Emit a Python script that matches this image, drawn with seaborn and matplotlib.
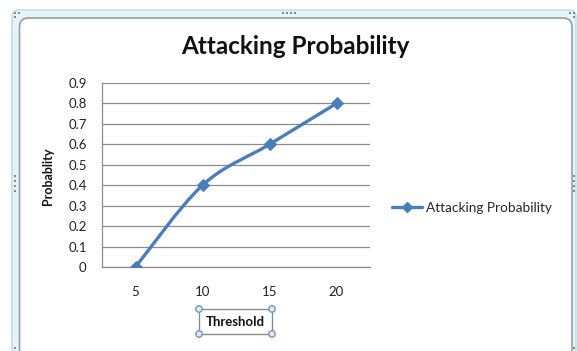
import numpy as np
import pandas as pd
import matplotlib
matplotlib.use("Agg")
import matplotlib.pyplot as plt
import seaborn as sns
from matplotlib.path import Path
from matplotlib.patches import PathPatch, FancyBboxPatch, Circle, Rectangle
from matplotlib.lines import Line2D

# Chart data
thresholds = ["5", "10", "15", "20"]
attacking_probability = [0.0, 0.4, 0.6, 0.8]
y_ticks = [0, 0.1, 0.2, 0.3, 0.4, 0.5, 0.6, 0.7, 0.8, 0.9]
y_tick_labels = ["0", "0.1", "0.2", "0.3", "0.4", "0.5", "0.6", "0.7", "0.8", "0.9"]
series_name = "Attacking Probability"
chart_title = "Attacking Probability"
x_title = "Threshold"
y_title = "Probablity"

LINE_BLUE = "#4a7ebb"
GRID_GRAY = "#8c8c8c"

sns.set_style("white")
plt.rcParams["font.family"] = ["Lato", "DejaVu Sans"]

W, H = 577, 351
fig = plt.figure(figsize=(W / 100, H / 100), dpi=100)
fig.patch.set_facecolor("white")

# Background layer in pixel coordinates for the chart frame
bg = fig.add_axes([0, 0, 1, 1], zorder=0)
bg.set_xlim(0, W)
bg.set_ylim(H, 0)
bg.axis("off")

bg.add_patch(FancyBboxPatch((12, 10), 564, 345, boxstyle="round,pad=0,rounding_size=7",
                            facecolor="#e4f5f8", edgecolor="#bcd9e0", lw=1))
bg.add_patch(FancyBboxPatch((19.5, 18), 552.5, 340, boxstyle="round,pad=0,rounding_size=9",
                            facecolor="white", edgecolor="#9c9c9c", lw=1.2))

# Resize handles on the frame
def dots(xs, ys):
    for x in xs:
        for y in ys:
            bg.add_patch(Rectangle((x - 1, y - 1), 2, 2, facecolor="#8a8a8a", edgecolor="none"))

dots([283, 287, 291, 295], [13])
dots([15], [176, 181, 186, 191])
dots([574], [176, 181, 186, 191])
dots([15, 19], [13])
dots([15], [17])
dots([570, 574], [13])
dots([574], [17])
dots([15], [348])
dots([574], [348])

# Axis title box with selection handles
bg.add_patch(Rectangle((199, 309), 73, 25, facecolor="white", edgecolor="#8a8a8a", lw=1))
for cx, cy in [(199, 309), (272, 309), (199, 334), (272, 334)]:
    bg.add_patch(Circle((cx, cy), 3.2, facecolor="#dfeaf4", edgecolor="#6f98bb", lw=1))
bg.text(235.5, 322, x_title, ha="center", va="center", fontsize=9.5, fontweight="bold",
        color="#111111")

# Plot area
ax = fig.add_axes([102 / W, 1 - 267 / H, 268 / W, 184 / H], zorder=1)
ax.set_facecolor("none")

df = pd.DataFrame({"pos": np.arange(len(thresholds)), "value": attacking_probability})

# Smoothed series line (Catmull-Rom style Bezier through the points)
pts = df[["pos", "value"]].to_numpy(dtype=float)
n = len(pts)
verts = [tuple(pts[0])]
codes = [Path.MOVETO]
for i in range(n - 1):
    p0 = pts[max(i - 1, 0)]
    p1 = pts[i]
    p2 = pts[i + 1]
    p3 = pts[min(i + 2, n - 1)]
    c1 = p1 + (p2 - p0) / 6.0
    c2 = p2 - (p3 - p1) / 6.0
    verts += [tuple(c1), tuple(c2), tuple(p2)]
    codes += [Path.CURVE4] * 3
ax.add_patch(PathPatch(Path(verts, codes), facecolor="none", edgecolor=LINE_BLUE,
                       lw=2.4, capstyle="round", joinstyle="round", zorder=3))

sns.lineplot(data=df, x="pos", y="value", ax=ax, marker="D", markersize=6.5,
             color=LINE_BLUE, markeredgecolor=LINE_BLUE, linestyle="none", zorder=4)

ax.set_xlim(-0.5, len(thresholds) - 0.5)
ax.set_ylim(0, 0.9)
ax.set_xticks(df["pos"])
ax.set_xticklabels(thresholds)
ax.set_yticks(y_ticks)
ax.set_yticklabels(y_tick_labels)
ax.set_xlabel("")
ax.set_ylabel("")
ax.yaxis.grid(True, color=GRID_GRAY, lw=0.9)
ax.xaxis.grid(False)
ax.set_axisbelow(True)
for side in ["top", "right"]:
    ax.spines[side].set_visible(False)
for side in ["left", "bottom"]:
    ax.spines[side].set_color(GRID_GRAY)
    ax.spines[side].set_linewidth(0.9)
ax.tick_params(axis="y", length=3, color=GRID_GRAY, direction="out", pad=8,
               labelsize=9.5, labelcolor="#222222")
ax.tick_params(axis="x", length=0, pad=14, labelsize=9.5, labelcolor="#222222")
if ax.get_legend() is not None:
    ax.get_legend().remove()

# Titles
fig.text(295 / W, 1 - 47 / H, chart_title, ha="center", va="center",
         fontsize=17.5, fontweight="bold", color="#111111")
fig.text(48 / W, 1 - 176 / H, y_title, ha="center", va="center", rotation=90,
         fontsize=9, fontweight="bold", color="#111111")

# Legend
handle = Line2D([0], [0], color=LINE_BLUE, lw=2.4, marker="D", markersize=5.5)
fig.legend([handle], [series_name], loc="center left",
           bbox_to_anchor=(392 / W, 1 - 208 / H), frameon=False, fontsize=9.8,
           handlelength=2.2, handletextpad=0.3, borderpad=0, borderaxespad=0)

fig.savefig("out.png", dpi=100)
